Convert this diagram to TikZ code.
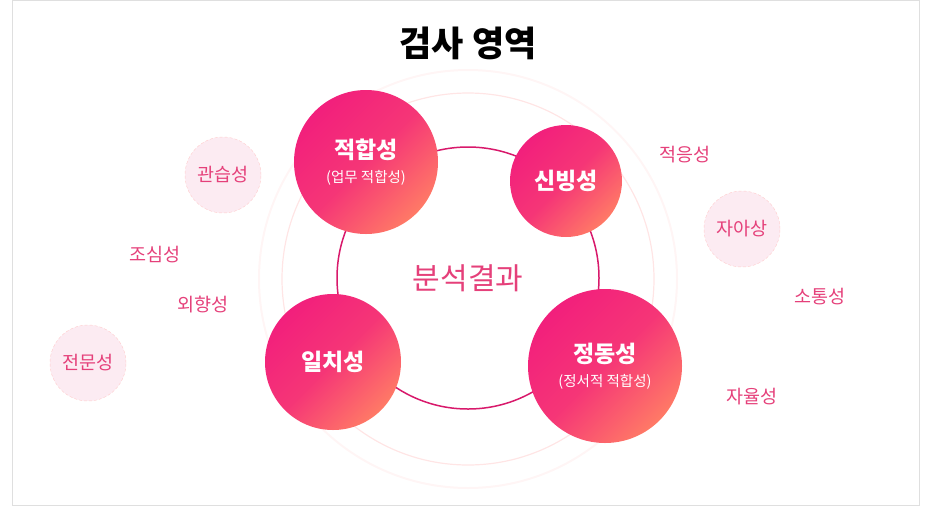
\documentclass[tikz,border=0pt]{standalone}
\usepackage{fontspec}
\setmainfont{Noto Sans CJK KR}
\usepackage{tikz}
\usepackage{xcolor}
\definecolor{hotpink}{HTML}{F21F7C}
\definecolor{coral}{HTML}{FF7A66}
\definecolor{labelpink}{HTML}{E5407A}
\definecolor{ringpink}{HTML}{D8196B}
\definecolor{softpink}{HTML}{FCEBF2}

\begin{document}
\begin{tikzpicture}[x=1pt, y=-1pt,
    core/.style={circle, inner sep=0pt, text=white, align=center, top color=hotpink, bottom color=coral, middle color=hotpink!75!coral, shading angle=45},
    aspect/.style={circle, inner sep=0pt, minimum size=76pt, fill=softpink, draw=pink!80, densely dashed, text=labelpink, font=\fontsize{18.5}{21}\selectfont},
    trait/.style={text=labelpink, font=\fontsize{18.5}{21}\selectfont}]
    \useasboundingbox (0, 0) rectangle (926, 507);
    \draw [gray!25, line width=1pt] (12.5, 0.5) rectangle (919.5, 505.5);
    \node [font=\fontsize{35}{40}\selectfont\bfseries] (title) at (468, 43) {검사 영역};

    % rings behind the result
    \node [circle, draw=pink!15, line width=2pt, minimum size=418pt] (outerring) at (468, 279) {};
    \node [circle, draw=pink!40, line width=1.2pt, minimum size=372pt] (midring) at (468, 279) {};
    \node [circle, draw=ringpink, line width=1.5pt, minimum size=262pt, text=labelpink, font=\fontsize{30}{34}\selectfont] (result) at (468, 278) {분석결과};

    \node [core, minimum size=144pt] (fit) at (366, 162) {{\fontsize{23}{26}\selectfont\bfseries 적합성}\\[9pt]{\fontsize{14.5}{16}\selectfont (업무 적합성)}};
    \node [core, minimum size=112pt, font=\fontsize{23}{26}\selectfont\bfseries] (trust) at (566, 181) {신빙성};
    \node [core, minimum size=136pt, font=\fontsize{23}{26}\selectfont\bfseries] (match) at (333, 362) {일치성};
    \node [core, minimum size=154pt] (emotion) at (605, 366) {{\fontsize{23}{26}\selectfont\bfseries 정동성}\\[9pt]{\fontsize{14.5}{16}\selectfont (정서적 적합성)}};

    \node [aspect] (habit) at (223, 175) {관습성};
    \node [aspect] (expert) at (88, 363) {전문성};
    \node [aspect] (self) at (742, 229) {자아상};

    \node [trait] (care) at (155, 255) {조심성};
    \node [trait] (extro) at (203, 305) {외향성};
    \node [trait] (adapt) at (685, 155) {적응성};
    \node [trait] (talk) at (820, 297) {소통성};
    \node [trait] (auto) at (752, 397) {자율성};
\end{tikzpicture}
\end{document}
